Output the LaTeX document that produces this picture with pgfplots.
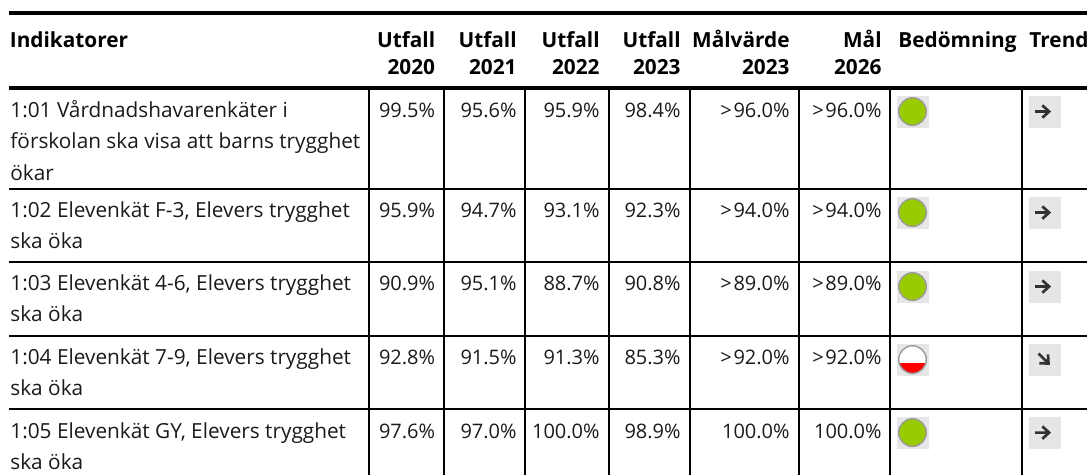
\documentclass[border=0pt]{standalone}
\usepackage{fontspec}
\setmainfont{Open Sans}
\usepackage{pgfplots}
\usepackage{pgfplotstable}
\pgfplotsset{compat=1.18}
\definecolor{okgreen}{HTML}{99CC00}
\definecolor{ringgray}{HTML}{9A9A9A}
\definecolor{boxgray}{HTML}{E6E6E6}
\definecolor{arrowgray}{HTML}{333333}
\definecolor{txt}{HTML}{1A1A1A}
\definecolor{alarm}{HTML}{FF0000}
\newcommand\bodyfont{\fontsize{10.4}{12}\selectfont}
\newcommand\numfont{\fontsize{10}{12}\selectfont}

\pgfdeclareplotmark{halfred}{%
  \pgfsetfillcolor{white}%
  \pgfpathcircle{\pgfpointorigin}{6.9pt}\pgfusepath{fill}%
  \begin{pgfscope}%
    \pgfpathcircle{\pgfpointorigin}{6.9pt}\pgfusepath{clip}%
    \pgfsetfillcolor{alarm}%
    \pgfpathrectanglecorners{\pgfpoint{-8pt}{-8pt}}{\pgfpoint{8pt}{-1.9pt}}\pgfusepath{fill}%
  \end{pgfscope}%
  \pgfsetstrokecolor{ringgray}\pgfsetlinewidth{0.7pt}%
  \pgfpathcircle{\pgfpointorigin}{6.9pt}\pgfusepath{stroke}%
}
\pgfdeclareplotmark{trend}{%
  \pgfsetlinewidth{1.35pt}\pgfsetmiterjoin
  \pgfpathmoveto{\pgfpoint{-4.2pt}{0pt}}\pgfpathlineto{\pgfpoint{2.6pt}{0pt}}%
  \pgfpathmoveto{\pgfpoint{-0.6pt}{3.1pt}}\pgfpathlineto{\pgfpoint{2.8pt}{0pt}}\pgfpathlineto{\pgfpoint{-0.6pt}{-3.1pt}}%
  \pgfusepathqstroke
}

\pgfplotstableread{
y u20 u21 u22 u23 m23 m26
117 99.5 95.6 95.9 98.4 96.0 96.0
217 95.9 94.7 93.1 92.3 94.0 94.0
290 90.9 95.1 88.7 90.8 89.0 89.0
364 92.8 91.5 91.3 85.3 92.0 92.0
438 97.6 97.0 100.0 98.9 100.0 100.0
}\tbl

\pgfplotsset{
  cell/.style={draw=none, mark=none, point meta=explicit,
    nodes near coords={\pgfmathprintnumber[fixed,fixed zerofill,precision=1,assume math mode=true]{\pgfplotspointmeta}\%},
    nodes near coords align={anchor=base east},
    every node near coord/.append style={inner sep=0pt, font=\numfont, text=txt}},
  target/.style={cell,
    nodes near coords={>\kern0.9pt\pgfmathprintnumber[fixed,fixed zerofill,precision=1,assume math mode=true]{\pgfplotspointmeta}\%}},
}

\begin{document}
\begin{tikzpicture}
\begin{axis}[scale only axis, width=543.5pt, height=237pt,
  xmin=0, xmax=1087, ymin=0, ymax=474, y dir=reverse,
  hide axis, clip=false]

% rules
\addplot[black, line width=1.6pt] coordinates {(9,13) (1100,13)};
\addplot[black, line width=1.6pt] coordinates {(9,88) (1100,88)};
\addplot[black, line width=1pt, unbounded coords=jump] coordinates {
  (9,189) (1100,189) (0,nan) (9,262) (1100,262) (0,nan)
  (9,336) (1100,336) (0,nan) (9,409) (1100,409)};
\addplot[black, line width=1pt, unbounded coords=jump] coordinates {
  (369,88) (369,480) (0,nan) (444,88) (444,480) (0,nan)
  (525,88) (525,480) (0,nan) (609,88) (609,480) (0,nan)
  (690,88) (690,480) (0,nan) (799,88) (799,480) (0,nan)
  (890,88) (890,480) (0,nan) (1022,88) (1022,480)};

% headers
\begin{scope}[every node/.style={inner sep=0pt, font=\bodyfont\bfseries, text=black}]
\node[anchor=base west] at (axis cs:9.5,47) {Indikatorer};
\node[anchor=base east] at (axis cs:435.5,47) {Utfall};
\node[anchor=base east] at (axis cs:435.5,74) {2020};
\node[anchor=base east] at (axis cs:517,47) {Utfall};
\node[anchor=base east] at (axis cs:517,74) {2021};
\node[anchor=base east] at (axis cs:600,47) {Utfall};
\node[anchor=base east] at (axis cs:600,74) {2022};
\node[anchor=base east] at (axis cs:681,47) {Utfall};
\node[anchor=base east] at (axis cs:681,74) {2023};
\node[anchor=base east] at (axis cs:790,47) {Målvärde};
\node[anchor=base east] at (axis cs:790,74) {2023};
\node[anchor=base east] at (axis cs:882,47) {Mål};
\node[anchor=base east] at (axis cs:882,74) {2026};
\node[anchor=base west] at (axis cs:898,47) {Bedömning};
\node[anchor=base west] at (axis cs:1029,47) {Trend};
\end{scope}

% indicator names
\begin{scope}[every node/.style={inner sep=0pt, font=\bodyfont, text=txt, anchor=base west}]
\node at (axis cs:10,117) {1:01 Vårdnadshavarenkäter i};
\node at (axis cs:10,148.5) {förskolan ska visa att barns trygghet};
\node at (axis cs:10,180) {ökar};
\node at (axis cs:10,217) {1:02 Elevenkät F-3, Elevers trygghet};
\node at (axis cs:10,248) {ska öka};
\node at (axis cs:10,290) {1:03 Elevenkät 4-6, Elevers trygghet};
\node at (axis cs:10,321) {ska öka};
\node at (axis cs:10,364) {1:04 Elevenkät 7-9, Elevers trygghet};
\node at (axis cs:10,395) {ska öka};
\node at (axis cs:10,438) {1:05 Elevenkät GY, Elevers trygghet};
\node at (axis cs:10,469) {ska öka};
\end{scope}

% values
\addplot[cell] table[x expr=435.5, y=y, meta=u20] {\tbl};
\addplot[cell] table[x expr=517, y=y, meta=u21] {\tbl};
\addplot[cell] table[x expr=600, y=y, meta=u22] {\tbl};
\addplot[cell] table[x expr=681, y=y, meta=u23] {\tbl};
\addplot[target, skip coords between index={4}{5}] table[x expr=790, y=y, meta=m23] {\tbl};
\addplot[target, skip coords between index={4}{5}] table[x expr=882, y=y, meta=m26] {\tbl};
\addplot[cell, skip coords between index={0}{4}] table[x expr=790, y=y, meta=m23] {\tbl};
\addplot[cell, skip coords between index={0}{4}] table[x expr=882, y=y, meta=m26] {\tbl};

% assessment icons
\addplot[only marks, mark=square*, mark size=7.75pt, color=boxgray] coordinates {
  (912.5,111.5) (912.5,212.5) (912.5,286.5) (912.5,359.5) (912.5,432.5)
  (1044.5,111.5) (1044.5,212.5) (1044.5,286.5) (1044.5,359.5) (1044.5,432.5)};
\addplot[only marks, mark=*, mark size=6.9pt, mark options={fill=okgreen, draw=ringgray, line width=0.7pt}] coordinates {
  (912.5,111.5) (912.5,212.5) (912.5,286.5) (912.5,432.5)};
\addplot[only marks, mark=halfred] coordinates {(912.5,359.5)};
% trend arrows
\addplot[only marks, mark=trend, color=arrowgray] coordinates {
  (1043.5,111.5) (1043.5,212.5) (1043.5,286.5) (1043.5,432.5)};
\addplot[only marks, mark=trend, color=arrowgray, mark options={rotate=-45}] coordinates {(1044.5,359.5)};
\end{axis}
\pgfresetboundingbox
\path[use as bounding box] (current axis.south west) rectangle (current axis.north east);
\end{tikzpicture}
\end{document}
